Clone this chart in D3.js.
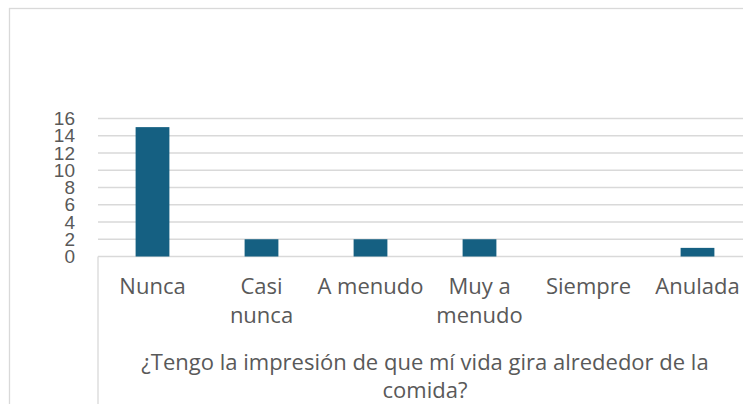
<!DOCTYPE html>
<html>
<head>
<meta charset="utf-8">
<script src="https://cdn.jsdelivr.net/npm/d3@7"></script>
<style>
  html, body { margin: 0; padding: 0; background: #fff; overflow: hidden; }
</style>
</head>
<body>
<div id="chart"></div>
<script>
// datos
const categories = ["Nunca", "Casi nunca", "A menudo", "Muy a menudo", "Siempre", "Anulada"];
const values = [15, 2, 2, 2, 0, 1];
const tickLabels = [["Nunca"], ["Casi", "nunca"], ["A menudo"], ["Muy a", "menudo"], ["Siempre"], ["Anulada"]];
const yTicks = [0, 2, 4, 6, 8, 10, 12, 14, 16];
const titleLines = ["¿Tengo la impresión de que mí vida gira alrededor de la", "comida?"];

const width = 743, height = 404;
const svg = d3.select("#chart").append("svg")
    .attr("width", width).attr("height", height);

// marco del gráfico
svg.append("rect")
    .attr("x", 9.5).attr("y", 8.5)
    .attr("width", 800).attr("height", 500)
    .attr("fill", "#fff").attr("stroke", "#d9d9d9").attr("stroke-width", 1.3);

const plotLeft = 98, plotRight = 752, plotTop = 118.5, plotBottom = 256.5;

const x = d3.scaleBand()
    .domain(categories)
    .range([plotLeft, plotRight])
    .paddingInner(0.69)
    .paddingOuter(0.345);

const y = d3.scaleLinear()
    .domain([0, 16])
    .range([plotBottom, plotTop]);

// líneas de cuadrícula
svg.append("g")
    .selectAll("line")
    .data(yTicks)
    .join("line")
    .attr("x1", plotLeft).attr("x2", plotRight)
    .attr("y1", d => y(d)).attr("y2", d => y(d))
    .attr("stroke", "#d9d9d9").attr("stroke-width", 1.3);

// eje Y
const yAxis = svg.append("g")
    .attr("transform", `translate(${plotLeft},0)`)
    .call(d3.axisLeft(y).tickValues(yTicks).tickSize(0).tickPadding(23));
yAxis.select(".domain").remove();
yAxis.selectAll("text")
    .attr("fill", "#595959")
    .style("font-family", "'Liberation Sans', Arial, sans-serif")
    .style("font-size", "19px");

// caja del eje de categorías
svg.append("line")
    .attr("x1", plotLeft).attr("x2", plotLeft)
    .attr("y1", plotBottom).attr("y2", height + 5)
    .attr("stroke", "#d9d9d9").attr("stroke-width", 1.3);

// barras
svg.append("g")
    .selectAll("rect")
    .data(categories)
    .join("rect")
    .attr("x", d => x(d))
    .attr("y", (d, i) => y(values[i]))
    .attr("width", x.bandwidth())
    .attr("height", (d, i) => y(0) - y(values[i]))
    .attr("fill", "#156082");

// etiquetas de categorías
const labels = svg.append("g")
    .selectAll("text")
    .data(categories)
    .join("text")
    .attr("x", d => x(d) + x.bandwidth() / 2)
    .attr("y", 294)
    .attr("text-anchor", "middle")
    .attr("fill", "#595959")
    .style("font-family", "'Open Sans', sans-serif")
    .style("font-size", "22px");
labels.selectAll("tspan")
    .data((d, i) => tickLabels[i])
    .join("tspan")
    .attr("x", function() { return this.parentNode.getAttribute("x"); })
    .attr("dy", (d, i) => i === 0 ? 0 : 29)
    .text(d => d);

// título del eje
svg.append("text")
    .attr("x", (plotLeft + plotRight) / 2)
    .attr("y", 370)
    .attr("text-anchor", "middle")
    .attr("fill", "#595959")
    .style("font-family", "'Open Sans', sans-serif")
    .style("font-size", "22px")
    .selectAll("tspan")
    .data(titleLines)
    .join("tspan")
    .attr("x", (plotLeft + plotRight) / 2)
    .attr("dy", (d, i) => i === 0 ? 0 : 28)
    .text(d => d);
</script>
</body>
</html>
